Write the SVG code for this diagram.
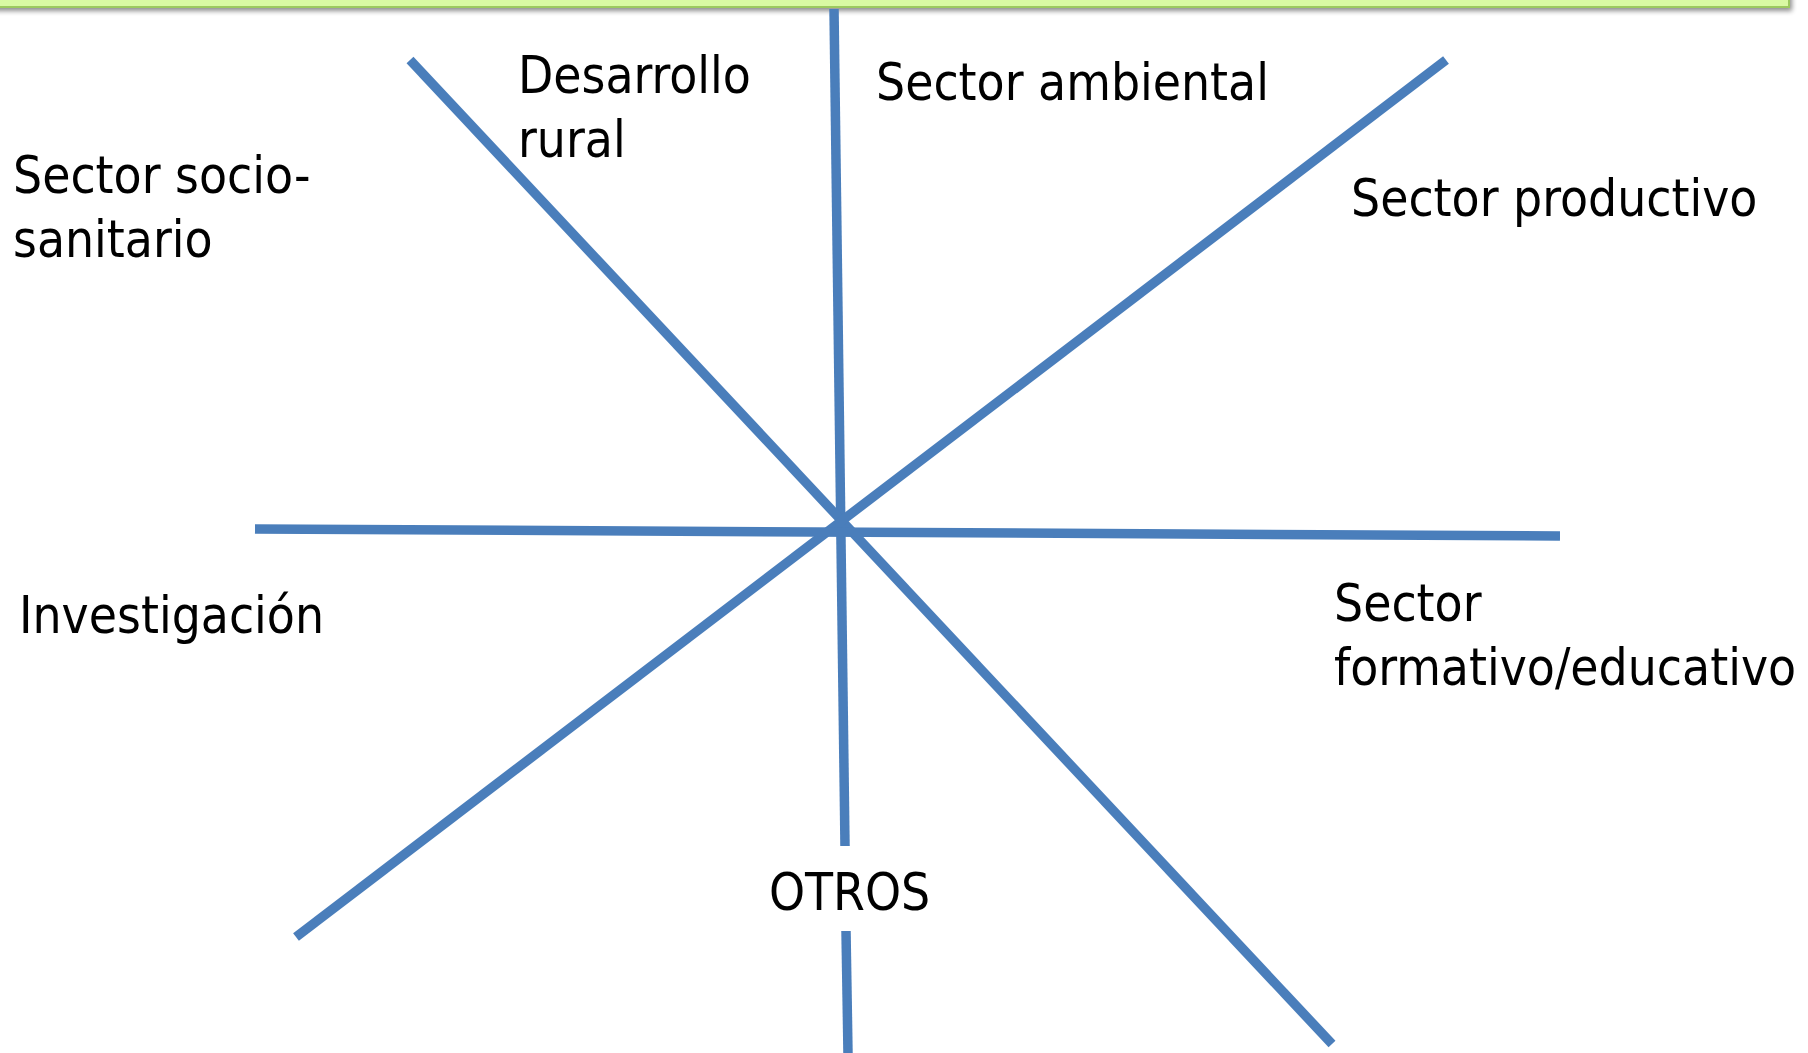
<svg xmlns="http://www.w3.org/2000/svg" width="1808" height="1053" viewBox="0 0 1808 1053">
<defs>
<filter id="sh" x="-5%" y="-50%" width="110%" height="300%">
<feGaussianBlur in="SourceAlpha" stdDeviation="2.5"/>
<feOffset dx="2" dy="3" result="b"/>
<feComponentTransfer><feFuncA type="linear" slope="0.45"/></feComponentTransfer>
<feMerge><feMergeNode/><feMergeNode in="SourceGraphic"/></feMerge>
</filter>
</defs>
<style>
.ln{stroke:#4a7ebb;stroke-width:9.5;fill:none}
.t{font-family:"DejaVu Sans Condensed","DejaVu Sans",sans-serif;font-stretch:condensed;font-size:51px;fill:#000}
</style>
<rect x="0" y="0" width="1808" height="1053" fill="#ffffff"/>
<g id="banner">
<rect x="-10" y="-12" width="1799" height="19" fill="#d9f9a3" stroke="#9cc95e" stroke-width="2" filter="url(#sh)"/>
</g>
<g id="connectors">
<line class="ln" x1="834" y1="9" x2="845" y2="846"/>
<line class="ln" x1="846" y1="931" x2="848" y2="1053"/>
<line class="ln" x1="410" y1="60" x2="1332" y2="1044"/>
<line class="ln" x1="296" y1="937" x2="1446" y2="60"/>
<line class="ln" x1="255" y1="529" x2="1560" y2="536"/>
</g>
<g id="n-desarrollo"><text class="t" x="518" y="93">Desarrollo</text><text class="t" x="518" y="157">rural</text></g>
<g id="n-ambiental"><text class="t" x="876" y="100">Sector ambiental</text></g>
<g id="n-sociosanitario"><text class="t" x="13" y="193">Sector socio-</text><text class="t" x="13" y="257">sanitario</text></g>
<g id="n-productivo"><text class="t" x="1351" y="216">Sector productivo</text></g>
<g id="n-investigacion"><text class="t" x="19" y="633">Investigación</text></g>
<g id="n-formativo"><text class="t" x="1334" y="621">Sector</text><text class="t" x="1334" y="685">formativo/educativo</text></g>
<g id="n-otros"><text class="t" x="769" y="910">OTROS</text></g>
</svg>
